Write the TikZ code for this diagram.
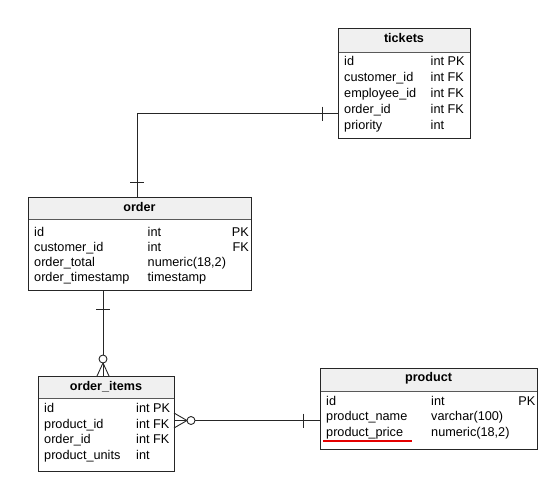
\documentclass[tikz,border=0pt]{standalone}
\usepackage{fontspec}
\setmainfont{Liberation Sans}
\begin{document}
\begin{tikzpicture}[x=1pt,y=-1pt,
  tbl/.style={draw=black!85,line width=0.9pt,fill=white,inner sep=0pt,anchor=north west},
  hdr/.style={fill=black!6,inner sep=0pt,anchor=north west},
  hdrtext/.style={font=\fontsize{12.6}{14}\selectfont\bfseries,inner sep=0pt,anchor=base},
  cell/.style={font=\fontsize{12.7}{14}\selectfont,inner sep=0pt,anchor=base west},
  cellr/.style={font=\fontsize{12.7}{14}\selectfont,inner sep=0pt,anchor=base east},
  conn/.style={draw=black!85,line width=0.9pt},
  sep/.style={draw=black!65,line width=1.4pt},
  outline/.style={draw=black!85,line width=0.9pt}]
\useasboundingbox (0,0) rectangle (560,491);

% ---------- tickets ----------
\node[tbl,minimum width=132pt,minimum height=110pt] (tickets) at (338,28) {};
\node[hdr,minimum width=132pt,minimum height=24pt] (tickets-h) at (338,28) {};
\draw[sep] (tickets-h.south west) -- (tickets-h.south east);
\draw[outline] (tickets.north west) rectangle (tickets.south east);
\node[hdrtext] (tickets-t) at (404,42.5) {tickets};
\node[cell] (tk1) at (344,65.8) {id};
\node[cell] (tk2) at (344,81.6) {customer\_id};
\node[cell] (tk3) at (344,97.6) {employee\_id};
\node[cell] (tk4) at (344,113.6) {order\_id};
\node[cell] (tk5) at (344,129.8) {priority};
\node[cell] (tk1b) at (430.5,65.8) {int PK};
\node[cell] (tk2b) at (430.5,81.6) {int FK};
\node[cell] (tk3b) at (430.5,97.6) {int FK};
\node[cell] (tk4b) at (430.5,113.6) {int FK};
\node[cell] (tk5b) at (430.5,129.8) {int};

% ---------- order ----------
\node[tbl,minimum width=223pt,minimum height=93pt] (order) at (28,197) {};
\node[hdr,minimum width=223pt,minimum height=22pt] (order-h) at (28,197) {};
\draw[sep] (order-h.south west) -- (order-h.south east);
\draw[outline] (order.north west) rectangle (order.south east);
\node[hdrtext] (order-t) at (139.5,211.8) {order};
\node[cell] (or1) at (34,236) {id};
\node[cell] (or2) at (34,251) {customer\_id};
\node[cell] (or3) at (34,266) {order\_total};
\node[cell] (or4) at (34,281.4) {order\_timestamp};
\node[cell] (or1b) at (147.5,236) {int};
\node[cell] (or2b) at (147.5,251) {int};
\node[cell] (or3b) at (147.5,266) {numeric(18,2)};
\node[cell] (or4b) at (147.5,281.4) {timestamp};
\node[cellr] (or1c) at (249,236) {PK};
\node[cellr] (or2c) at (249,251) {FK};

% ---------- order_items ----------
\node[tbl,minimum width=136pt,minimum height=95pt] (items) at (38,376) {};
\node[hdr,minimum width=136pt,minimum height=22pt] (items-h) at (38,376) {};
\draw[sep] (items-h.south west) -- (items-h.south east);
\draw[outline] (items.north west) rectangle (items.south east);
\node[hdrtext] (items-t) at (106,390.5) {order\_items};
\node[cell] (it1) at (44,412.6) {id};
\node[cell] (it2) at (44,428) {product\_id};
\node[cell] (it3) at (44,443.5) {order\_id};
\node[cell] (it4) at (44,459.2) {product\_units};
\node[cell] (it1b) at (136,412.6) {int PK};
\node[cell] (it2b) at (136,428) {int FK};
\node[cell] (it3b) at (136,443.5) {int FK};
\node[cell] (it4b) at (136,459.2) {int};

% ---------- product ----------
\node[tbl,minimum width=217pt,minimum height=81pt] (product) at (320,368) {};
\node[hdr,minimum width=217pt,minimum height=23pt] (product-h) at (320,368) {};
\draw[sep] (product-h.south west) -- (product-h.south east);
\draw[outline] (product.north west) rectangle (product.south east);
\node[hdrtext] (product-t) at (428.5,381.8) {product};
\node[cell] (pr1) at (326,405.3) {id};
\node[cell] (pr2) at (326,420.8) {product\_name};
\node[cell] (pr3) at (326,436.3) {product\_price};
\node[cell] (pr1b) at (431,405.3) {int};
\node[cell] (pr2b) at (431,420.8) {varchar(100)};
\node[cell] (pr3b) at (431,436.3) {numeric(18,2)};
\node[cellr] (pr1c) at (535.5,405.3) {PK};
\coordinate (u1) at (323,440.5);
\coordinate (u2) at (412,440.5);
\draw[red!90!black,line width=2pt] (u1) -- (u2);

% ---------- connectors ----------
% tickets -- order
\coordinate (c1) at (338,113.5);
\coordinate (c2) at (137,113.5);
\coordinate (c3) at (137,197);
\draw[conn] (c1) -- (c2) -- (c3);
\draw[conn] (322,106.5) -- (322,120.5);
\draw[conn] (130,182) -- (144,182);

% order -- order_items
\coordinate (d1) at (103,290);
\coordinate (d2) at (103,376);
\draw[conn] (d1) -- (103,355);
\draw[conn] (96,309) -- (110,309);
\draw[conn,fill=white] (103,359) circle[radius=4];
\draw[conn] (103,363) -- (d2);
\draw[conn] (103,363) -- (97,376);
\draw[conn] (103,363) -- (109,376);

% order_items -- product
\coordinate (e1) at (174,420.5);
\coordinate (e2) at (320,420.5);
\draw[conn] (195,420.5) -- (e2);
\draw[conn] (303,413.5) -- (303,427.5);
\draw[conn,fill=white] (191,420.5) circle[radius=4];
\draw[conn] (187,420.5) -- (e1);
\draw[conn] (187,420.5) -- (174,413);
\draw[conn] (187,420.5) -- (174,428);
\end{tikzpicture}
\end{document}
